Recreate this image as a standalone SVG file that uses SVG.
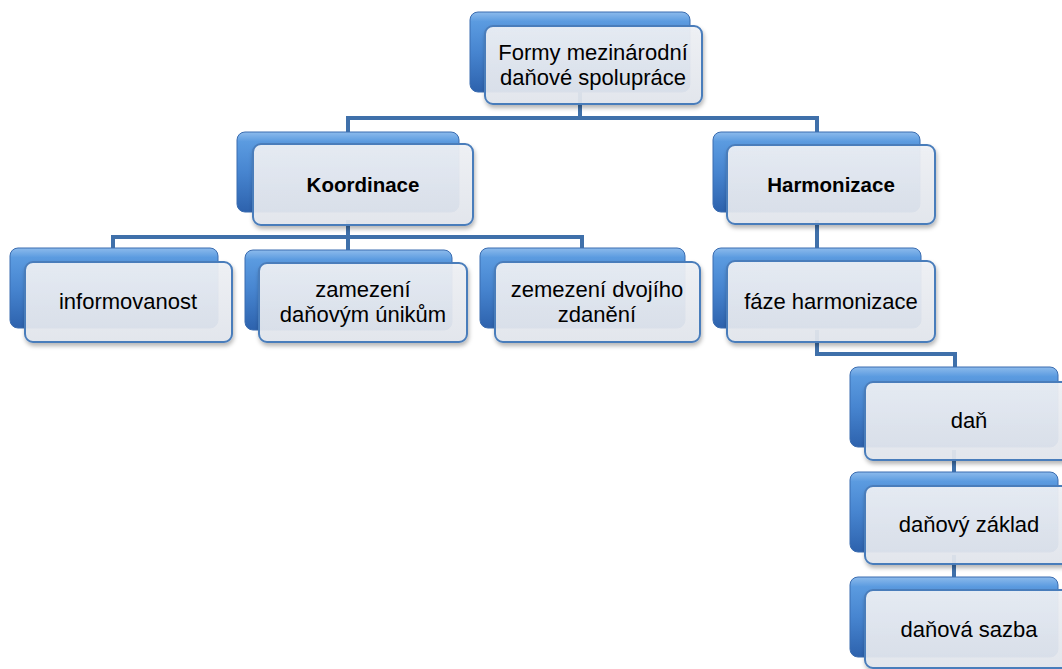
<svg xmlns="http://www.w3.org/2000/svg" width="1062" height="669" viewBox="0 0 1062 669">
<defs>
<linearGradient id="gBack" x1="0" y1="0" x2="0" y2="1">
<stop offset="0" stop-color="#8dbbec"/>
<stop offset="0.12" stop-color="#5b9be0"/>
<stop offset="0.5" stop-color="#4785d0"/>
<stop offset="1" stop-color="#2d62ad"/>
</linearGradient>
<linearGradient id="gFront" x1="0" y1="0" x2="0" y2="1">
<stop offset="0" stop-color="#f0f2f6"/>
<stop offset="1" stop-color="#e3e7ee"/>
</linearGradient>
<filter id="sh" x="-10%" y="-10%" width="125%" height="130%">
<feDropShadow dx="1" dy="3" stdDeviation="2" flood-color="#000" flood-opacity="0.3"/>
</filter>
</defs>
<style>
.back{fill:url(#gBack);stroke:#3a6cb0;stroke-width:1}
.front{fill:url(#gFront);fill-opacity:0.92;stroke:#4a7dbb;stroke-width:2;filter:url(#sh)}
.t{font-family:"Liberation Sans",Arial,sans-serif;font-size:22px;fill:#000;text-anchor:middle}
.b{font-weight:bold;font-size:20.5px}
.c{fill:none;stroke:#3f70aa;stroke-width:4;stroke-linejoin:miter}
</style>
<rect width="1062" height="669" fill="#fff"/>
<g id="connectors">
<path class="c" d="M580,90 V118"/>
<path class="c" d="M348,140 V118 H817 V140"/>
<path class="c" d="M348,220 V237"/>
<path class="c" d="M113,256 V237 H582 V256"/>
<path class="c" d="M348,237 V258"/>
<path class="c" d="M817,220 V256"/>
<path class="c" d="M817,330 V354 H955 V375"/>
<path class="c" d="M954,450 V480"/>
<path class="c" d="M954,555 V585"/>
</g>
<g id="n-top">
<rect class="back" x="470" y="12" width="220" height="80" rx="8"/>
<rect class="front" x="485" y="26" width="217" height="78" rx="8"/>
<text class="t" x="593" y="60">Formy mezinárodní</text>
<text class="t" x="593" y="85">daňové spolupráce</text>
</g>
<g id="n-koordinace">
<rect class="back" x="237" y="132" width="222" height="80" rx="8"/>
<rect class="front" x="253" y="144" width="220" height="81" rx="8"/>
<text class="t b" x="363" y="192">Koordinace</text>
</g>
<g id="n-harmonizace">
<rect class="back" x="713" y="132" width="207" height="80" rx="8"/>
<rect class="front" x="727" y="145" width="208" height="79" rx="8"/>
<text class="t b" x="831" y="192">Harmonizace</text>
</g>
<g id="n-informovanost">
<rect class="back" x="10" y="248" width="208" height="80" rx="8"/>
<rect class="front" x="25" y="262" width="207" height="80" rx="8"/>
<text class="t" x="128" y="309">informovanost</text>
</g>
<g id="n-zamezeni">
<rect class="back" x="245" y="250" width="207" height="80" rx="8"/>
<rect class="front" x="259" y="263" width="208" height="79" rx="8"/>
<text class="t" x="363" y="297">zamezení</text>
<text class="t" x="363" y="322">daňovým únikům</text>
</g>
<g id="n-zemezeni">
<rect class="back" x="480" y="248" width="205" height="80" rx="8"/>
<rect class="front" x="495" y="262" width="205" height="80" rx="8"/>
<text class="t" x="597" y="297">zemezení dvojího</text>
<text class="t" x="597" y="322">zdanění</text>
</g>
<g id="n-faze">
<rect class="back" x="713" y="248" width="208" height="80" rx="8"/>
<rect class="front" x="727" y="261" width="208" height="81" rx="8"/>
<text class="t" x="831" y="309">fáze harmonizace</text>
</g>
<g id="n-dan">
<rect class="back" x="850" y="367" width="208" height="80" rx="8"/>
<rect class="front" x="865" y="382" width="208" height="78" rx="8"/>
<text class="t" x="969" y="428">daň</text>
</g>
<g id="n-zaklad">
<rect class="back" x="850" y="472" width="208" height="80" rx="8"/>
<rect class="front" x="865" y="486" width="208" height="78" rx="8"/>
<text class="t" x="969" y="532">daňový základ</text>
</g>
<g id="n-sazba">
<rect class="back" x="850" y="577" width="208" height="80" rx="8"/>
<rect class="front" x="865" y="590" width="208" height="78" rx="8"/>
<text class="t" x="969" y="637">daňová sazba</text>
</g>
</svg>
